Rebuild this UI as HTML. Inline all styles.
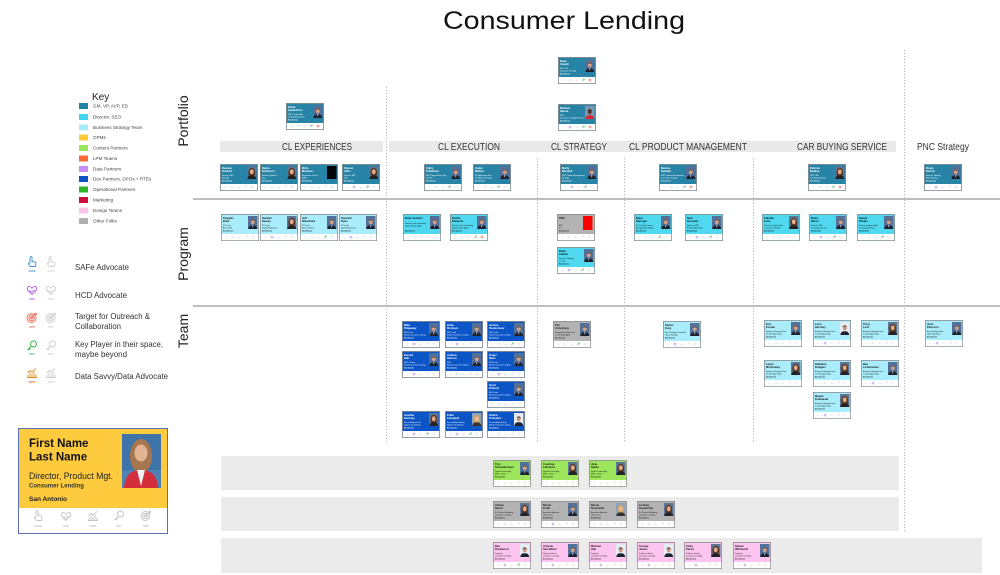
<!DOCTYPE html>
<html>
<head>
<meta charset="utf-8">
<style>
html,body{margin:0;padding:0;background:#fff;}
body{width:1000px;height:575px;overflow:hidden;}
svg{display:block;}
text{font-family:"Liberation Sans",sans-serif;}
.n{font-weight:bold;font-size:2.7px;}
.t{font-size:1.9px;}
.l{font-size:1.7px;font-weight:bold;}
.w{fill:#fff;}
.k{fill:#111;}
.key{font-size:4.6px;fill:#444;}
.adv{font-size:8px;fill:#333;}
.hd{font-size:10px;fill:#333;}
.il{font-size:2.6px;font-weight:bold;}
</style>
</head>
<body>
<svg width="1000" height="575" viewBox="0 0 1000 575" xmlns="http://www.w3.org/2000/svg">
<defs>
  <g id="cf">
    <rect x=".4" y=".4" width="37.2" height="26.2" stroke="#8e8e8e" stroke-width=".8"/>
    <rect x=".8" y="20" width="36.4" height="6.2" fill="#fff"/>
    <g fill="none" stroke="#c8c8c8" stroke-width=".35">
      <path d="M5 21.6v2.6h1.4"/>
      <circle cx="12" cy="23" r="1.1"/>
      <path d="M17.6 24.3v-1.2M18.6 24.3v-2M19.6 24.3v-1.5"/>
      <path d="M24 24.3l1.5-1.5"/><circle cx="25.8" cy="22.2" r=".7"/>
      <circle cx="32" cy="23" r="1.2"/>
    </g>
  </g>
  <g id="pm">
    <rect width="9.5" height="13" fill="#52709a"/>
    <path d="M.3 13c.4-3 2-3.8 4.45-3.8S8.8 10 9.2 13z" fill="#1c2230"/>
    <path d="M4.1 9.3l.65 2.4.65-2.4z" fill="#eee"/>
    <ellipse cx="4.75" cy="5.7" rx="2" ry="2.6" fill="#d4a283"/>
    <path d="M2.7 5.3c0-2.4 4.1-2.4 4.1 0-.6-1.2-3.5-1.2-4.1 0z" fill="#3b2b22"/>
  </g>
  <g id="pw">
    <rect width="9.5" height="13" fill="#e6ebf2"/>
    <path d="M.3 13c.4-3 2-3.8 4.45-3.8S8.8 10 9.2 13z" fill="#1c2230"/>
    <ellipse cx="4.75" cy="5.7" rx="2" ry="2.6" fill="#c99478"/>
    <path d="M2.7 5.3c0-2.4 4.1-2.4 4.1 0-.6-1.2-3.5-1.2-4.1 0z" fill="#3b2b22"/>
  </g>
  <g id="pf">
    <rect width="9.5" height="13" fill="#5a7599"/>
    <ellipse cx="4.75" cy="6.8" rx="3.4" ry="5" fill="#5b3621"/>
    <path d="M.3 13c.4-3 2-3.6 4.45-3.6S8.8 10 9.2 13z" fill="#222"/>
    <ellipse cx="4.75" cy="5.8" rx="1.9" ry="2.5" fill="#deac8c"/>
  </g>
  <g id="pl">
    <rect width="9.5" height="13" fill="#8fa3b8"/>
    <ellipse cx="4.75" cy="6.8" rx="3.4" ry="5" fill="#c9a56a"/>
    <path d="M.3 13c.4-3 2-3.6 4.45-3.6S8.8 10 9.2 13z" fill="#333"/>
    <ellipse cx="4.75" cy="5.8" rx="1.9" ry="2.5" fill="#e6bb9a"/>
  </g>
  <g id="pr">
    <rect width="9.5" height="13" fill="#7f97b4"/>
    <path d="M.3 13c.4-3 2-3.8 4.45-3.8S8.8 10 9.2 13z" fill="#d8262a"/>
    <ellipse cx="4.75" cy="5.7" rx="2" ry="2.6" fill="#5a3a28"/>
    <path d="M2.7 5.3c0-2.4 4.1-2.4 4.1 0-.6-1.2-3.5-1.2-4.1 0z" fill="#111"/>
  </g>
  <g id="pb"><rect width="9.5" height="13" fill="#050505"/></g>
  <g id="mg"><path d="M0 2.2l1.5-1.5" stroke="#3cb043" stroke-width=".5"/><circle cx="1.8" cy=".5" r=".7" fill="none" stroke="#3cb043" stroke-width=".45"/></g>
  <g id="mp"><path d="M1 2.4L0 1.3C-.3.8.2 0 .7.3L1 .6l.3-.3c.5-.3 1 .5.7 1z" fill="none" stroke="#b05cf0" stroke-width=".45"/></g>
  <g id="mr"><circle cx="1" cy="1" r="1.1" fill="none" stroke="#f2574a" stroke-width=".45"/><circle cx="1" cy="1" r=".4" fill="#f2574a"/></g>

  <g id="ic-safe" fill="none" stroke="currentColor" stroke-width=".9" stroke-linejoin="round">
    <path d="M4 7V1.6a1 1 0 0 1 2 0V5.5l3 .6c.8.2 1.1.8 1 1.5L9.5 10.5H4.5L2.5 8.2c-.5-.6.2-1.4.9-1z"/>
  </g>
  <g id="ic-hcd" fill="none" stroke="currentColor" stroke-width=".9" stroke-linejoin="round">
    <path d="M6 10.5L2 6.5C.5 5 1.5 2 3.8 2.5 5 2.8 5.6 3.6 6 4.3 6.4 3.6 7 2.8 8.2 2.5 10.5 2 11.5 5 10 6.5z"/>
    <path d="M3.5 6.5l2 1.5 3-2"/>
  </g>
  <g id="ic-opp" fill="none" stroke="currentColor" stroke-width=".9">
    <circle cx="5.5" cy="6" r="4.5"/><circle cx="5.5" cy="6" r="2.7"/><circle cx="5.5" cy="6" r="1"/>
    <path d="M5.5 6L10 1.5M8.3 1.3h2v2"/>
  </g>
  <g id="ic-key" fill="none" stroke="currentColor" stroke-width=".9">
    <circle cx="7.5" cy="4" r="3"/><path d="M5.4 6.1L1.5 10M2.5 9l1.2 1.2M3.5 8l1 1"/>
  </g>
  <g id="ic-data" fill="none" stroke="currentColor" stroke-width=".9">
    <path d="M1 10.5h10M2 10.5v-3M4 10.5v-5M6 10.5v-4M8 10.5v-6M10 10.5v-3"/>
    <path d="M1.5 6L4 3.5 6 5 10 1.5"/>
  </g>
</defs>

<!-- Title -->
<text x="564" y="29" text-anchor="middle" font-size="25" textLength="242" lengthAdjust="spacingAndGlyphs" fill="#111">Consumer Lending</text>

<!-- Grid lines -->
<g stroke="#a8a8a8" stroke-width="1.5">
  <line x1="193" y1="199" x2="1000" y2="199"/>
  <line x1="193" y1="306" x2="1000" y2="306"/>
</g>
<g stroke="#b8b8b8" stroke-width="1" stroke-dasharray="1.2 1.8">
  <line x1="386.5" y1="87" x2="386.5" y2="442"/>
  <line x1="537.5" y1="158" x2="537.5" y2="442"/>
  <line x1="624.5" y1="158" x2="624.5" y2="442"/>
  <line x1="753.5" y1="158" x2="753.5" y2="442"/>
  <line x1="904.5" y1="50" x2="904.5" y2="533"/>
</g>

<!-- Row labels -->
<text transform="translate(188,121) rotate(-90)" text-anchor="middle" font-size="14" fill="#222">Portfolio</text>
<text transform="translate(188,254) rotate(-90)" text-anchor="middle" font-size="14" fill="#222">Program</text>
<text transform="translate(188,331) rotate(-90)" text-anchor="middle" font-size="14" fill="#222">Team</text>

<!-- Header bars -->
<rect x="220" y="141" width="163" height="11" fill="#e9e9e9"/>
<rect x="389" y="141" width="507" height="11" fill="#e9e9e9"/>
<text class="hd" x="317" y="150" text-anchor="middle" textLength="70" lengthAdjust="spacingAndGlyphs">CL EXPERIENCES</text>
<text class="hd" x="469" y="150" text-anchor="middle" textLength="62" lengthAdjust="spacingAndGlyphs">CL EXECUTION</text>
<text class="hd" x="579" y="150" text-anchor="middle" textLength="56" lengthAdjust="spacingAndGlyphs">CL STRATEGY</text>
<text class="hd" x="688" y="150" text-anchor="middle" textLength="118" lengthAdjust="spacingAndGlyphs">CL PRODUCT MANAGEMENT</text>
<text class="hd" x="842" y="150" text-anchor="middle" textLength="90" lengthAdjust="spacingAndGlyphs">CAR BUYING SERVICE</text>
<text class="hd" x="943" y="150" text-anchor="middle" textLength="52" lengthAdjust="spacingAndGlyphs">PNC Strategy</text>

<!-- Bottom bands -->
<rect x="221" y="456" width="678" height="34" fill="#ebebeb"/>
<rect x="221" y="497" width="678" height="34" fill="#ebebeb"/>
<rect x="221" y="538" width="761" height="35" fill="#ebebeb"/>

<!-- Key -->
<text x="92" y="100" font-size="10" fill="#222">Key</text>
<g>
  <rect x="79" y="103" width="9" height="6" fill="#1f82a6"/><text class="key" x="93" y="107.6">GM, VP, AVP, ED</text>
  <rect x="79" y="114" width="9" height="6" fill="#3dd6ee"/><text class="key" x="93" y="118.6">Director, SEO</text>
  <rect x="79" y="124.5" width="9" height="6" fill="#a8ecfb"/><text class="key" x="93" y="129.1">Business Strategy Team</text>
  <rect x="79" y="134.5" width="9" height="6" fill="#ffcb3b"/><text class="key" x="93" y="139.1">OPMs</text>
  <rect x="79" y="145" width="9" height="6" fill="#9be65a"/><text class="key" x="93" y="149.6">Content Partners</text>
  <rect x="79" y="155.5" width="9" height="6" fill="#ff6b35"/><text class="key" x="93" y="160.1">LPM Teams</text>
  <rect x="79" y="166" width="9" height="6" fill="#c98ef5"/><text class="key" x="93" y="170.6">Data Partners</text>
  <rect x="79" y="176" width="9" height="6" fill="#0d53c4"/><text class="key" x="93" y="180.6">Dev Partners, DPOs + RTEs</text>
  <rect x="79" y="186.5" width="9" height="6" fill="#2fb52a"/><text class="key" x="93" y="191.1">Operational Partners</text>
  <rect x="79" y="197" width="9" height="6" fill="#cc0e3e"/><text class="key" x="93" y="201.6">Marketing</text>
  <rect x="79" y="207.5" width="9" height="6" fill="#fbc3ea"/><text class="key" x="93" y="212.1">Design Teams</text>
  <rect x="79" y="218" width="9" height="6" fill="#b0b0b0"/><text class="key" x="93" y="222.6">Other Folks</text>
</g>

<!-- Advocate legend -->
<g>
  <use href="#ic-safe" x="26" y="256" style="color:#3b8de0"/><text class="il" x="32" y="272" text-anchor="middle" fill="#3b8de0">SAFE</text>
  <use href="#ic-safe" x="45" y="256" style="color:#cfcfcf"/><text class="il" x="51" y="272" text-anchor="middle" fill="#cfcfcf">SAFE</text>
  <text class="adv" x="75" y="270" textLength="54" lengthAdjust="spacingAndGlyphs">SAFe Advocate</text>

  <use href="#ic-hcd" x="26" y="284" style="color:#b25cf0"/><text class="il" x="32" y="300" text-anchor="middle" fill="#b25cf0">CDO</text>
  <use href="#ic-hcd" x="45" y="284" style="color:#cfcfcf"/><text class="il" x="51" y="300" text-anchor="middle" fill="#cfcfcf">CDO</text>
  <text class="adv" x="75" y="298" textLength="52" lengthAdjust="spacingAndGlyphs">HCD Advocate</text>

  <use href="#ic-opp" x="26" y="312" style="color:#f26b5b"/><text class="il" x="32" y="328" text-anchor="middle" fill="#f26b5b">OPP</text>
  <use href="#ic-opp" x="45" y="312" style="color:#cfcfcf"/><text class="il" x="51" y="328" text-anchor="middle" fill="#cfcfcf">OPP</text>
  <text class="adv" x="75" y="319" textLength="75" lengthAdjust="spacingAndGlyphs">Target for Outreach &amp;</text>
  <text class="adv" x="75" y="329" textLength="46" lengthAdjust="spacingAndGlyphs">Collaboration</text>

  <use href="#ic-key" x="26" y="340" style="color:#37b24d"/><text class="il" x="32" y="355" text-anchor="middle" fill="#37b24d">KEY</text>
  <use href="#ic-key" x="45" y="340" style="color:#cfcfcf"/><text class="il" x="51" y="355" text-anchor="middle" fill="#cfcfcf">KEY</text>
  <text class="adv" x="75" y="347" textLength="88" lengthAdjust="spacingAndGlyphs">Key Player in their space,</text>
  <text class="adv" x="75" y="357" textLength="52" lengthAdjust="spacingAndGlyphs">maybe beyond</text>

  <use href="#ic-data" x="26" y="367" style="color:#e0902a"/><text class="il" x="32" y="383" text-anchor="middle" fill="#e0602a">DATA</text>
  <use href="#ic-data" x="45" y="367" style="color:#cfcfcf"/><text class="il" x="51" y="383" text-anchor="middle" fill="#cfcfcf">DATA</text>
  <text class="adv" x="75" y="379" textLength="93" lengthAdjust="spacingAndGlyphs">Data Savvy/Data Advocate</text>
</g>

<!-- Big sample card -->
<g>
  <rect x="18.5" y="428.5" width="149" height="105" fill="#fff" stroke="#5a6fb5" stroke-width="1"/>
  <rect x="19" y="429" width="148" height="79" fill="#fecb3e"/>
  <rect x="122" y="434" width="39" height="54" fill="#3f74a8"/>
  <rect x="122" y="470" width="39" height="18" fill="#4d82b3"/>
  <ellipse cx="141" cy="456" rx="11" ry="17" fill="#a8764e"/>
  <path d="M124 488C125 474 132 470 141 470S157 474 158 488z" fill="#d42d3c"/>
  <path d="M137 470L141 486 145 470z" fill="#f2f2f2"/>
  <ellipse cx="141" cy="453" rx="6.5" ry="8.5" fill="#e3b493"/>
  <text x="29" y="447" font-size="11.5" font-weight="bold" fill="#111">First Name</text>
  <text x="29" y="460.5" font-size="11.5" font-weight="bold" fill="#111">Last Name</text>
  <text x="29" y="479" font-size="9.5" fill="#222" textLength="84" lengthAdjust="spacingAndGlyphs">Director, Product Mgt.</text>
  <text x="29" y="487.5" font-size="6.5" font-weight="bold" fill="#333" textLength="55" lengthAdjust="spacingAndGlyphs">Consumer Lending</text>
  <text x="29" y="501" font-size="6.5" font-weight="bold" fill="#222">San Antonio</text>
  <g style="color:#c4c4c4">
    <use href="#ic-safe" x="32" y="510"/><text class="il" x="38" y="527" text-anchor="middle" fill="#bbb" font-size="3.2">SAFE</text>
    <use href="#ic-hcd" x="60" y="510"/><text class="il" x="66" y="527" text-anchor="middle" fill="#bbb" font-size="3.2">CDO</text>
    <use href="#ic-data" x="87" y="510"/><text class="il" x="93" y="527" text-anchor="middle" fill="#bbb" font-size="3.2">DATA</text>
    <use href="#ic-key" x="113" y="510"/><text class="il" x="119" y="527" text-anchor="middle" fill="#bbb" font-size="3.2">KEY</text>
    <use href="#ic-opp" x="140" y="510"/><text class="il" x="146" y="527" text-anchor="middle" fill="#bbb" font-size="3.2">OPP</text>
  </g>
</g>

<!-- ===== Portfolio cards ===== -->
<g transform="translate(558,57)"><use href="#cf" fill="#2784a6"/><use href="#pm" x="27" y="2"/><use href="#mg" x="24" y="22"/><use href="#mr" x="31" y="22"/><text class="w"><tspan class="n" x="2" y="5">Dean</tspan><tspan class="n" x="2" y="8">Cavelli</tspan><tspan class="t" x="2" y="12">SVP, CLP</tspan><tspan class="t" x="2" y="14.3">Consumer Lending</tspan><tspan class="l" x="2" y="17.5">San Antonio</tspan></text></g>
<g transform="translate(558,104)"><use href="#cf" fill="#2784a6"/><use href="#pr" x="27" y="2"/><use href="#mp" x="11" y="22"/><use href="#mg" x="24" y="22"/><use href="#mr" x="31" y="22"/><text class="w"><tspan class="n" x="2" y="5">Michael</tspan><tspan class="n" x="2" y="8">Hanna</tspan><tspan class="t" x="2" y="12">SVP</tspan><tspan class="t" x="2" y="14.3">Consumer Lending Business</tspan><tspan class="l" x="2" y="17.5">San Antonio</tspan></text></g>
<g transform="translate(286,103)"><use href="#cf" fill="#2784a6"/><use href="#pm" x="27" y="2"/><use href="#mg" x="24" y="22"/><use href="#mr" x="31" y="22"/><text class="w"><tspan class="n" x="2" y="5">David</tspan><tspan class="n" x="2" y="8">Gardenhire</tspan><tspan class="t" x="2" y="12">SVP, Product Mgt.</tspan><tspan class="t" x="2" y="14.3">Lending Experience</tspan><tspan class="l" x="2" y="17.5">San Antonio</tspan></text></g>

<!-- Header row cards -->
<g transform="translate(220,164)"><use href="#cf" fill="#2784a6"/><use href="#pf" x="27" y="2"/><text class="w"><tspan class="n" x="2" y="5">Deanna</tspan><tspan class="n" x="2" y="8">Gardner</tspan><tspan class="t" x="2" y="12">Director, CBO</tspan><tspan class="t" x="2" y="14.3">Strategy</tspan><tspan class="l" x="2" y="17.5">San Antonio</tspan></text></g>
<g transform="translate(260,164)"><use href="#cf" fill="#2784a6"/><use href="#pf" x="27" y="2"/><text class="w"><tspan class="n" x="2" y="5">Debra</tspan><tspan class="n" x="2" y="8">Dickinson</tspan><tspan class="t" x="2" y="12">Director, Digital CL</tspan><tspan class="t" x="2" y="14.3">Exp.</tspan><tspan class="l" x="2" y="17.5">San Antonio</tspan></text></g>
<g transform="translate(300,164)"><use href="#cf" fill="#2784a6"/><use href="#pb" x="27" y="2"/><text class="w"><tspan class="n" x="2" y="5">Mirin</tspan><tspan class="n" x="2" y="8">Martinez</tspan><tspan class="t" x="2" y="12">Experience Owner</tspan><tspan class="t" x="2" y="14.3">ASEO</tspan><tspan class="l" x="2" y="17.5">San Antonio</tspan></text></g>
<g transform="translate(342,164)"><use href="#cf" fill="#2784a6"/><use href="#pf" x="27" y="2"/><use href="#mp" x="11" y="22"/><use href="#mg" x="24" y="22"/><text class="w"><tspan class="n" x="2" y="5">Sharon</tspan><tspan class="n" x="2" y="8">Allen</tspan><tspan class="t" x="2" y="12">Director, SEO</tspan><tspan class="t" x="2" y="14.3">CBO</tspan><tspan class="l" x="2" y="17.5">San Antonio</tspan></text></g>
<g transform="translate(424,164)"><use href="#cf" fill="#2784a6"/><use href="#pm" x="27" y="2"/><use href="#mg" x="24" y="22"/><text class="w"><tspan class="n" x="2" y="5">Cathy</tspan><tspan class="n" x="2" y="8">O'Sullivan</tspan><tspan class="t" x="2" y="12">SVP, Program/Proj. Mgt.</tspan><tspan class="t" x="2" y="14.3">Director</tspan><tspan class="l" x="2" y="17.5">San Antonio</tspan></text></g>
<g transform="translate(473,164)"><use href="#cf" fill="#2784a6"/><use href="#pm" x="27" y="2"/><use href="#mg" x="24" y="22"/><text class="w"><tspan class="n" x="2" y="5">Cedar</tspan><tspan class="n" x="2" y="8">Millard</tspan><tspan class="t" x="2" y="12">VP, Application Dev.</tspan><tspan class="t" x="2" y="14.3">Lending Technology</tspan><tspan class="l" x="2" y="17.5">San Antonio</tspan></text></g>
<g transform="translate(560,164)"><use href="#cf" fill="#2784a6"/><use href="#pm" x="27" y="2"/><use href="#mp" x="11" y="22"/><use href="#mg" x="24" y="22"/><text class="w"><tspan class="n" x="2" y="5">Marty</tspan><tspan class="n" x="2" y="8">Wendell</tspan><tspan class="t" x="2" y="12">SVP, Product Management</tspan><tspan class="t" x="2" y="14.3">Strategy</tspan><tspan class="l" x="2" y="17.5">San Antonio</tspan></text></g>
<g transform="translate(659,164)"><use href="#cf" fill="#2784a6"/><use href="#pm" x="27" y="2"/><use href="#mg" x="24" y="22"/><use href="#mr" x="31" y="22"/><text class="w"><tspan class="n" x="2" y="5">Marcus</tspan><tspan class="n" x="2" y="8">Haddad</tspan><tspan class="t" x="2" y="12">SVP, Product Management</tspan><tspan class="t" x="2" y="14.3">Consumer Lending</tspan><tspan class="l" x="2" y="17.5">San Antonio</tspan></text></g>
<g transform="translate(808,164)"><use href="#cf" fill="#2784a6"/><use href="#pf" x="27" y="2"/><use href="#mg" x="24" y="22"/><use href="#mr" x="31" y="22"/><text class="w"><tspan class="n" x="2" y="5">Patricia</tspan><tspan class="n" x="2" y="8">Medina</tspan><tspan class="t" x="2" y="12">SVP, CBS</tspan><tspan class="t" x="2" y="14.3">Car Buying Service</tspan><tspan class="l" x="2" y="17.5">San Antonio</tspan></text></g>
<g transform="translate(924,164)"><use href="#cf" fill="#2784a6"/><use href="#pm" x="27" y="2"/><use href="#mp" x="11" y="22"/><text class="w"><tspan class="n" x="2" y="5">Doyle</tspan><tspan class="n" x="2" y="8">Dennis</tspan><tspan class="t" x="2" y="12">Director, Strategy</tspan><tspan class="t" x="2" y="14.3">PNC Strategy</tspan><tspan class="l" x="2" y="17.5">San Antonio</tspan></text></g>

<!-- ===== Program cards ===== -->
<g transform="translate(221,214)"><use href="#cf" fill="#a9ecfb"/><use href="#pm" x="27" y="2"/><text class="k"><tspan class="n" x="2" y="5">Douglas</tspan><tspan class="n" x="2" y="8">Brett</tspan><tspan class="t" x="2" y="12">PO Lead</tspan><tspan class="t" x="2" y="14.3">Auto, CBS</tspan><tspan class="l" x="2" y="17.5">San Antonio</tspan></text></g>
<g transform="translate(260,214)"><use href="#cf" fill="#a9ecfb"/><use href="#pf" x="27" y="2"/><use href="#mp" x="11" y="22"/><text class="k"><tspan class="n" x="2" y="5">Heather</tspan><tspan class="n" x="2" y="8">Henley</tspan><tspan class="t" x="2" y="12">PO Lead</tspan><tspan class="t" x="2" y="14.3">Digital Experience</tspan><tspan class="l" x="2" y="17.5">San Antonio</tspan></text></g>
<g transform="translate(300,214)"><use href="#cf" fill="#a9ecfb"/><use href="#pm" x="27" y="2"/><use href="#mg" x="24" y="22"/><text class="k"><tspan class="n" x="2" y="5">Jeff</tspan><tspan class="n" x="2" y="8">Blanchard</tspan><tspan class="t" x="2" y="12">PO Lead</tspan><tspan class="t" x="2" y="14.3">Auto, Lending</tspan><tspan class="l" x="2" y="17.5">San Antonio</tspan></text></g>
<g transform="translate(339,214)"><use href="#cf" fill="#a9ecfb"/><use href="#pm" x="27" y="2"/><use href="#mp" x="11" y="22"/><text class="k"><tspan class="n" x="2" y="5">Kenneth</tspan><tspan class="n" x="2" y="8">Ryan</tspan><tspan class="t" x="2" y="12">PO Lead</tspan><tspan class="t" x="2" y="14.3">Digital Experience</tspan><tspan class="l" x="2" y="17.5">San Antonio</tspan></text></g>
<g transform="translate(403,214)"><use href="#cf" fill="#4fd8ef"/><use href="#pm" x="27" y="2"/><text class="k"><tspan class="n" x="2" y="5">Brian Jenkins</tspan><tspan class="t" x="2" y="10">Director, Tech Consulting</tspan><tspan class="t" x="2" y="12.3">Deposit Prog. Mgmt</tspan><tspan class="l" x="2" y="17.5">San Antonio</tspan></text></g>
<g transform="translate(450,214)"><use href="#cf" fill="#4fd8ef"/><use href="#pm" x="27" y="2"/><use href="#mg" x="24" y="22"/><use href="#mr" x="31" y="22"/><text class="k"><tspan class="n" x="2" y="5">Dustin</tspan><tspan class="n" x="2" y="8">Edwards</tspan><tspan class="t" x="2" y="12">Director, Tech Consulting</tspan><tspan class="t" x="2" y="14.3">Deposit Prog. Mgmt</tspan><tspan class="l" x="2" y="17.5">San Antonio</tspan></text></g>
<g transform="translate(557,214)"><use href="#cf" fill="#b3b3b3"/><rect x="26" y="2" width="9.5" height="14" fill="#ff0000"/><text class="k"><tspan class="n" x="2" y="5">TBD</tspan><tspan class="t" x="2" y="12">AVP</tspan><tspan class="t" x="2" y="14.3">PI</tspan><tspan class="l" x="2" y="17.5">San Antonio</tspan></text></g>
<g transform="translate(557,247)"><use href="#cf" fill="#4fd8ef"/><use href="#pm" x="27" y="2"/><use href="#mp" x="11" y="22"/><use href="#mg" x="24" y="22"/><text class="k"><tspan class="n" x="2" y="5">Brian</tspan><tspan class="n" x="2" y="8">Adams</tspan><tspan class="t" x="2" y="12">Director, Strategy</tspan><tspan class="t" x="2" y="14.3">CL Ops</tspan><tspan class="l" x="2" y="17.5">San Antonio</tspan></text></g>
<g transform="translate(634,214)"><use href="#cf" fill="#4fd8ef"/><use href="#pm" x="27" y="2"/><use href="#mg" x="24" y="22"/><text class="k"><tspan class="n" x="2" y="5">Dana</tspan><tspan class="n" x="2" y="8">Springer</tspan><tspan class="t" x="2" y="12">VP, Sr. Prod. Owner</tspan><tspan class="t" x="2" y="14.3">Energy Home Equity</tspan><tspan class="l" x="2" y="17.5">San Antonio</tspan></text></g>
<g transform="translate(685,214)"><use href="#cf" fill="#4fd8ef"/><use href="#pm" x="27" y="2"/><use href="#mp" x="11" y="22"/><use href="#mg" x="24" y="22"/><text class="k"><tspan class="n" x="2" y="5">Nick</tspan><tspan class="n" x="2" y="8">Horowitz</tspan><tspan class="t" x="2" y="12">Director, SEO</tspan><tspan class="t" x="2" y="14.3">Product Marketing</tspan><tspan class="l" x="2" y="17.5">San Antonio</tspan></text></g>
<g transform="translate(762,214)"><use href="#cf" fill="#4fd8ef"/><use href="#pf" x="27" y="2"/><text class="k"><tspan class="n" x="2" y="5">Claudia</tspan><tspan class="n" x="2" y="8">Luna</tspan><tspan class="t" x="2" y="12">Director, Program Mgt.</tspan><tspan class="t" x="2" y="14.3">Consumer Lending</tspan><tspan class="l" x="2" y="17.5">San Antonio</tspan></text></g>
<g transform="translate(809,214)"><use href="#cf" fill="#4fd8ef"/><use href="#pm" x="27" y="2"/><use href="#mp" x="11" y="22"/><use href="#mg" x="24" y="22"/><text class="k"><tspan class="n" x="2" y="5">Brian</tspan><tspan class="n" x="2" y="8">Wood</tspan><tspan class="t" x="2" y="12">Director, SEO</tspan><tspan class="t" x="2" y="14.3">Car Buying Service</tspan><tspan class="l" x="2" y="17.5">San Antonio</tspan></text></g>
<g transform="translate(857,214)"><use href="#cf" fill="#4fd8ef"/><use href="#pm" x="27" y="2"/><use href="#mg" x="24" y="22"/><text class="k"><tspan class="n" x="2" y="5">Daniel</tspan><tspan class="n" x="2" y="8">Phelps</tspan><tspan class="t" x="2" y="12">Director, Program Mgt.</tspan><tspan class="t" x="2" y="14.3">Car Buying Service</tspan><tspan class="l" x="2" y="17.5">San Antonio</tspan></text></g>

<!-- ===== Team cards ===== -->
<g transform="translate(402,321)"><use href="#cf" fill="#0b55c6"/><use href="#pm" x="27" y="2"/><use href="#mp" x="11" y="22"/><text class="w"><tspan class="n" x="2" y="5">Mike</tspan><tspan class="n" x="2" y="8">Ridgeway</tspan><tspan class="t" x="2" y="12">DPO Lead</tspan><tspan class="t" x="2" y="14.3">Retail Consumer Lending</tspan><tspan class="l" x="2" y="17.5">San Antonio</tspan></text></g>
<g transform="translate(445,321)"><use href="#cf" fill="#0b55c6"/><use href="#pm" x="27" y="2"/><use href="#mp" x="11" y="22"/><text class="w"><tspan class="n" x="2" y="5">Brian</tspan><tspan class="n" x="2" y="8">Montoya</tspan><tspan class="t" x="2" y="12">DPO Lead</tspan><tspan class="t" x="2" y="14.3">Retail Consumer Lending</tspan><tspan class="l" x="2" y="17.5">San Antonio</tspan></text></g>
<g transform="translate(487,321)"><use href="#cf" fill="#0b55c6"/><use href="#pm" x="27" y="2"/><use href="#mg" x="24" y="22"/><text class="w"><tspan class="n" x="2" y="5">Joshua</tspan><tspan class="n" x="2" y="8">Vandermeer</tspan><tspan class="t" x="2" y="12">DPO Lead</tspan><tspan class="t" x="2" y="14.3">Retail Consumer Lending</tspan><tspan class="l" x="2" y="17.5">San Antonio</tspan></text></g>
<g transform="translate(402,351)"><use href="#cf" fill="#0b55c6"/><use href="#pm" x="27" y="2"/><use href="#mp" x="11" y="22"/><text class="w"><tspan class="n" x="2" y="5">Everett</tspan><tspan class="n" x="2" y="8">Hall</tspan><tspan class="t" x="2" y="12">DPO / Scrum</tspan><tspan class="t" x="2" y="14.3">Retail Consumer Lending</tspan><tspan class="l" x="2" y="17.5">San Antonio</tspan></text></g>
<g transform="translate(445,351)"><use href="#cf" fill="#0b55c6"/><use href="#pm" x="27" y="2"/><text class="w"><tspan class="n" x="2" y="5">Andrew</tspan><tspan class="n" x="2" y="8">Herrera</tspan><tspan class="t" x="2" y="12">DPO</tspan><tspan class="t" x="2" y="14.3">Retail Consumer Lending</tspan><tspan class="l" x="2" y="17.5">San Antonio</tspan></text></g>
<g transform="translate(487,351)"><use href="#cf" fill="#0b55c6"/><use href="#pm" x="27" y="2"/><use href="#mp" x="11" y="22"/><text class="w"><tspan class="n" x="2" y="5">Roger</tspan><tspan class="n" x="2" y="8">Nava</tspan><tspan class="t" x="2" y="12">DPO Lead</tspan><tspan class="t" x="2" y="14.3">Retail Consumer Lending</tspan><tspan class="l" x="2" y="17.5">San Antonio</tspan></text></g>
<g transform="translate(487,381)"><use href="#cf" fill="#0b55c6"/><use href="#pm" x="27" y="2"/><text class="w"><tspan class="n" x="2" y="5">Scott</tspan><tspan class="n" x="2" y="8">Roberts</tspan><tspan class="t" x="2" y="12">DPO Lead</tspan><tspan class="t" x="2" y="14.3">Retail Consumer Lending</tspan><tspan class="l" x="2" y="17.5">San Antonio</tspan></text></g>
<g transform="translate(402,411)"><use href="#cf" fill="#0b55c6"/><use href="#pf" x="27" y="2"/><use href="#mp" x="11" y="22"/><use href="#mg" x="24" y="22"/><text class="w"><tspan class="n" x="2" y="5">Jennifer</tspan><tspan class="n" x="2" y="8">Kearney</tspan><tspan class="t" x="2" y="12">Scrum Master Lead</tspan><tspan class="t" x="2" y="14.3">Digital / CL Delivery</tspan><tspan class="l" x="2" y="17.5">San Antonio</tspan></text></g>
<g transform="translate(445,411)"><use href="#cf" fill="#0b55c6"/><use href="#pl" x="27" y="2"/><use href="#mp" x="11" y="22"/><use href="#mg" x="24" y="22"/><text class="w"><tspan class="n" x="2" y="5">Erika</tspan><tspan class="n" x="2" y="8">Campbell</tspan><tspan class="t" x="2" y="12">Scrum Master Senior</tspan><tspan class="t" x="2" y="14.3">Digital / CL Delivery</tspan><tspan class="l" x="2" y="17.5">San Antonio</tspan></text></g>
<g transform="translate(487,411)"><use href="#cf" fill="#0b55c6"/><use href="#pw" x="27" y="2"/><text class="w"><tspan class="n" x="2" y="5">Dmitrii</tspan><tspan class="n" x="2" y="8">Prokofiev</tspan><tspan class="t" x="2" y="12">Scrum Master Senior</tspan><tspan class="t" x="2" y="14.3">Retail Consumer Lending</tspan><tspan class="l" x="2" y="17.5">San Antonio</tspan></text></g>
<g transform="translate(553,321)"><use href="#cf" fill="#b3b3b3"/><use href="#pm" x="27" y="2"/><use href="#mg" x="24" y="22"/><text class="k"><tspan class="n" x="2" y="5">Tim</tspan><tspan class="n" x="2" y="8">Armstrong</tspan><tspan class="t" x="2" y="12">Program/Portfolio Lead</tspan><tspan class="t" x="2" y="14.3">CL Portfolio Mgmt.</tspan><tspan class="l" x="2" y="17.5">San Antonio</tspan></text></g>
<g transform="translate(663,321)"><use href="#cf" fill="#a9ecfb"/><use href="#pm" x="27" y="2"/><use href="#mp" x="11" y="22"/><text class="k"><tspan class="n" x="2" y="5">Shaun</tspan><tspan class="n" x="2" y="8">Gray</tspan><tspan class="t" x="2" y="12">Bus. Strategy Consultant</tspan><tspan class="t" x="2" y="14.3">Policy Strategy</tspan><tspan class="l" x="2" y="17.5">San Antonio</tspan></text></g>
<g transform="translate(764,320)"><use href="#cf" fill="#a9ecfb"/><use href="#pm" x="27" y="2"/><text class="k"><tspan class="n" x="2" y="5">Eric</tspan><tspan class="n" x="2" y="8">Fontan</tspan><tspan class="t" x="2" y="12">Business Strategy Cons.</tspan><tspan class="t" x="2" y="14.3">CL Strategy Group</tspan><tspan class="l" x="2" y="17.5">San Antonio</tspan></text></g>
<g transform="translate(813,320)"><use href="#cf" fill="#a9ecfb"/><use href="#pw" x="27" y="2"/><use href="#mp" x="11" y="22"/><text class="k"><tspan class="n" x="2" y="5">Larry</tspan><tspan class="n" x="2" y="8">Hershey</tspan><tspan class="t" x="2" y="12">Business Strategy Cons.</tspan><tspan class="t" x="2" y="14.3">CL Strategy Group</tspan><tspan class="l" x="2" y="17.5">San Antonio</tspan></text></g>
<g transform="translate(861,320)"><use href="#cf" fill="#a9ecfb"/><use href="#pf" x="27" y="2"/><text class="k"><tspan class="n" x="2" y="5">Tracy</tspan><tspan class="n" x="2" y="8">Lord</tspan><tspan class="t" x="2" y="12">Business Strategy Cons.</tspan><tspan class="t" x="2" y="14.3">CL Strategy Group</tspan><tspan class="l" x="2" y="17.5">San Antonio</tspan></text></g>
<g transform="translate(925,320)"><use href="#cf" fill="#a9ecfb"/><use href="#pm" x="27" y="2"/><use href="#mp" x="11" y="22"/><text class="k"><tspan class="n" x="2" y="5">Josh</tspan><tspan class="n" x="2" y="8">Peterson</tspan><tspan class="t" x="2" y="12">Bus. Strategy Lead</tspan><tspan class="t" x="2" y="14.3">CBS Operations</tspan><tspan class="l" x="2" y="17.5">San Antonio</tspan></text></g>
<g transform="translate(764,360)"><use href="#cf" fill="#a9ecfb"/><use href="#pf" x="27" y="2"/><text class="k"><tspan class="n" x="2" y="5">Laura</tspan><tspan class="n" x="2" y="8">McCloskey</tspan><tspan class="t" x="2" y="12">Business Strategy Cons.</tspan><tspan class="t" x="2" y="14.3">CL Strategy Group</tspan><tspan class="l" x="2" y="17.5">San Antonio</tspan></text></g>
<g transform="translate(813,360)"><use href="#cf" fill="#a9ecfb"/><use href="#pf" x="27" y="2"/><text class="k"><tspan class="n" x="2" y="5">Kathleen</tspan><tspan class="n" x="2" y="8">Rodgers</tspan><tspan class="t" x="2" y="12">Business Strategy Cons.</tspan><tspan class="t" x="2" y="14.3">CL Strategy Group</tspan><tspan class="l" x="2" y="17.5">San Antonio</tspan></text></g>
<g transform="translate(861,360)"><use href="#cf" fill="#a9ecfb"/><use href="#pm" x="27" y="2"/><use href="#mp" x="11" y="22"/><text class="k"><tspan class="n" x="2" y="5">Ben</tspan><tspan class="n" x="2" y="8">Lichtenstein</tspan><tspan class="t" x="2" y="12">Business Strategy Cons.</tspan><tspan class="t" x="2" y="14.3">CL Strategy Group</tspan><tspan class="l" x="2" y="17.5">San Antonio</tspan></text></g>
<g transform="translate(813,392)"><use href="#cf" fill="#a9ecfb"/><use href="#pf" x="27" y="2"/><use href="#mp" x="11" y="22"/><text class="k"><tspan class="n" x="2" y="5">Megan</tspan><tspan class="n" x="2" y="8">Kolaranda</tspan><tspan class="t" x="2" y="12">Business Strategy Cons.</tspan><tspan class="t" x="2" y="14.3">CL Strategy Group</tspan><tspan class="l" x="2" y="17.5">San Antonio</tspan></text></g>

<!-- ===== Bottom band cards ===== -->
<g transform="translate(493,460)"><use href="#cf" fill="#9de65b"/><use href="#pm" x="27" y="2"/><text class="k"><tspan class="n" x="2" y="5">Troy</tspan><tspan class="n" x="2" y="8">Schneiderman</tspan><tspan class="t" x="2" y="12">Digital Content Mgr.</tspan><tspan class="t" x="2" y="14.3">BBD Content</tspan><tspan class="l" x="2" y="17.5">San Antonio</tspan></text></g>
<g transform="translate(541,460)"><use href="#cf" fill="#9de65b"/><use href="#pf" x="27" y="2"/><text class="k"><tspan class="n" x="2" y="5">Courtney</tspan><tspan class="n" x="2" y="8">LaFrance</tspan><tspan class="t" x="2" y="12">Digital Content Mgr.</tspan><tspan class="t" x="2" y="14.3">BBD Content</tspan><tspan class="l" x="2" y="17.5">San Antonio</tspan></text></g>
<g transform="translate(589,460)"><use href="#cf" fill="#9de65b"/><use href="#pf" x="27" y="2"/><text class="k"><tspan class="n" x="2" y="5">Jana</tspan><tspan class="n" x="2" y="8">Spillis</tspan><tspan class="t" x="2" y="12">Digital Content Mgr.</tspan><tspan class="t" x="2" y="14.3">BBD Content</tspan><tspan class="l" x="2" y="17.5">San Antonio</tspan></text></g>

<g transform="translate(493,501)"><use href="#cf" fill="#b3b3b3"/><use href="#pf" x="27" y="2"/><text class="k"><tspan class="n" x="2" y="5">Ashley</tspan><tspan class="n" x="2" y="8">Norris</tspan><tspan class="t" x="2" y="12">Sr. Product Marketing</tspan><tspan class="t" x="2" y="14.3">Consumer Lending</tspan><tspan class="l" x="2" y="17.5">San Antonio</tspan></text></g>
<g transform="translate(541,501)"><use href="#cf" fill="#b3b3b3"/><use href="#pm" x="27" y="2"/><use href="#mp" x="11" y="22"/><text class="k"><tspan class="n" x="2" y="5">Nicole</tspan><tspan class="n" x="2" y="8">Pruitt</tspan><tspan class="t" x="2" y="12">Executive Assistant</tspan><tspan class="t" x="2" y="14.3">Team Lead</tspan><tspan class="l" x="2" y="17.5">San Antonio</tspan></text></g>
<g transform="translate(589,501)"><use href="#cf" fill="#b3b3b3"/><use href="#pl" x="27" y="2"/><text class="k"><tspan class="n" x="2" y="5">Nicole</tspan><tspan class="n" x="2" y="8">Rosenthal</tspan><tspan class="t" x="2" y="12">Executive Assistant</tspan><tspan class="t" x="2" y="14.3">Team Lead</tspan><tspan class="l" x="2" y="17.5">San Antonio</tspan></text></g>
<g transform="translate(637,501)"><use href="#cf" fill="#b3b3b3"/><use href="#pf" x="27" y="2"/><text class="k"><tspan class="n" x="2" y="5">Lindsay</tspan><tspan class="n" x="2" y="8">Gerald-Vay</tspan><tspan class="t" x="2" y="12">Sr. Product Marketing</tspan><tspan class="t" x="2" y="14.3">Consumer Lending</tspan><tspan class="l" x="2" y="17.5">San Antonio</tspan></text></g>

<g transform="translate(493,542)"><use href="#cf" fill="#fcc4ee"/><use href="#pw" x="27" y="2"/><use href="#mp" x="11" y="22"/><use href="#mg" x="24" y="22"/><text class="k"><tspan class="n" x="2" y="5">Ben</tspan><tspan class="n" x="2" y="8">Rockwood</tspan><tspan class="t" x="2" y="12">Designer</tspan><tspan class="t" x="2" y="14.3">Consumer Lending</tspan><tspan class="l" x="2" y="17.5">San Antonio</tspan></text></g>
<g transform="translate(541,542)"><use href="#cf" fill="#fcc4ee"/><use href="#pm" x="27" y="2"/><use href="#mp" x="11" y="22"/><text class="k"><tspan class="n" x="2" y="5">Antonio</tspan><tspan class="n" x="2" y="8">San Martin</tspan><tspan class="t" x="2" y="12">Designer Senior</tspan><tspan class="t" x="2" y="14.3">Consumer Lending</tspan><tspan class="l" x="2" y="17.5">San Antonio</tspan></text></g>
<g transform="translate(589,542)"><use href="#cf" fill="#fcc4ee"/><use href="#pw" x="27" y="2"/><use href="#mp" x="11" y="22"/><text class="k"><tspan class="n" x="2" y="5">Michael</tspan><tspan class="n" x="2" y="8">Hall</tspan><tspan class="t" x="2" y="12">Designer</tspan><tspan class="t" x="2" y="14.3">Consumer Lending</tspan><tspan class="l" x="2" y="17.5">San Antonio</tspan></text></g>
<g transform="translate(637,542)"><use href="#cf" fill="#fcc4ee"/><use href="#pw" x="27" y="2"/><use href="#mp" x="11" y="22"/><text class="k"><tspan class="n" x="2" y="5">George</tspan><tspan class="n" x="2" y="8">James</tspan><tspan class="t" x="2" y="12">Producer Senior</tspan><tspan class="t" x="2" y="14.3">Consumer Lending</tspan><tspan class="l" x="2" y="17.5">San Antonio</tspan></text></g>
<g transform="translate(684,542)"><use href="#cf" fill="#fcc4ee"/><use href="#pf" x="27" y="2"/><use href="#mp" x="11" y="22"/><text class="k"><tspan class="n" x="2" y="5">Vicky</tspan><tspan class="n" x="2" y="8">Pierce</tspan><tspan class="t" x="2" y="12">Producer Senior</tspan><tspan class="t" x="2" y="14.3">Consumer Lending</tspan><tspan class="l" x="2" y="17.5">San Antonio</tspan></text></g>
<g transform="translate(733,542)"><use href="#cf" fill="#fcc4ee"/><use href="#pm" x="27" y="2"/><use href="#mp" x="11" y="22"/><text class="k"><tspan class="n" x="2" y="5">Steven</tspan><tspan class="n" x="2" y="8">Whitworth</tspan><tspan class="t" x="2" y="12">Designer</tspan><tspan class="t" x="2" y="14.3">Consumer Lending</tspan><tspan class="l" x="2" y="17.5">San Antonio</tspan></text></g>
</svg>
</body>
</html>
